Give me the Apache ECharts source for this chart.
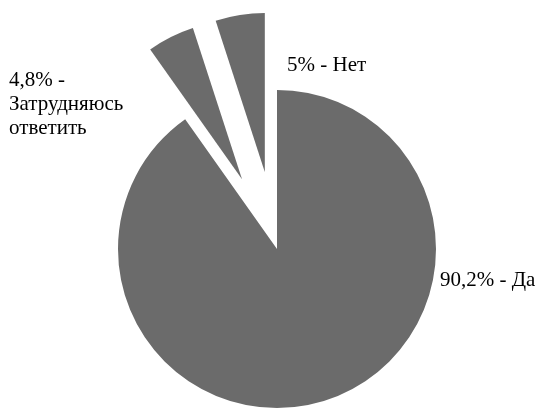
<!DOCTYPE html>
<html><head><meta charset="utf-8">
<script src="https://cdn.jsdelivr.net/npm/echarts@6/dist/echarts.min.js"></script>
<style>html,body{margin:0;padding:0;background:#fff}#c{width:548px;height:409px}
#fontwarm{position:absolute;left:-9999px;top:0;font-family:'Liberation Serif';font-size:21px}</style>
</head><body><div id="fontwarm">90,2% - Да Затрудняюсь ответить 5% - Нет</div><div id="c"></div>
<script>
const categories = ['Да', 'Затрудняюсь ответить', 'Нет'];
const values = [90.2, 4.8, 5];
const labelTexts = ['90,2% - Да', '4,8% -\nЗатрудняюсь\nответить', '5% - Нет'];
const exploded = [false, true, true];

const labelPos = [
  {x: 440, y: 270},
  {x: 9, y: 70},
  {x: 287, y: 55}
];
const linePitch = 24;

function draw() {
  const graphicTexts = [];
  labelTexts.forEach((t, i) => {
    t.split('\n').forEach((line, k) => {
      graphicTexts.push({
        type: 'text',
        left: labelPos[i].x,
        top: labelPos[i].y + k * linePitch,
        style: {text: line, fill: '#000', fontFamily: 'Liberation Serif', fontSize: 21}
      });
    });
  });
  const chart = echarts.init(document.getElementById('c'));
  chart.setOption({
    animation: false,
    graphic: graphicTexts,
    series: [{
      type: 'pie',
      center: [277, 249],
      radius: [0, 159],
      startAngle: 90,
      clockwise: true,
      selectedMode: 'multiple',
      selectedOffset: 78,
      emphasis: {disabled: true},
      itemStyle: {color: '#6b6b6b', borderWidth: 0},
      label: {show: false},
      labelLine: {show: false},
      data: categories.map((n, i) => ({name: n, value: values[i], selected: exploded[i]}))
    }]
  });
}

let drawn = false;
function once() { if (!drawn) { drawn = true; draw(); } }
if (document.fonts && document.fonts.load) {
  document.fonts.load('21px "Liberation Serif"', 'Затрудняюсь 90,2%').then(once, once);
  setTimeout(once, 800);
} else {
  once();
}
</script></body></html>
